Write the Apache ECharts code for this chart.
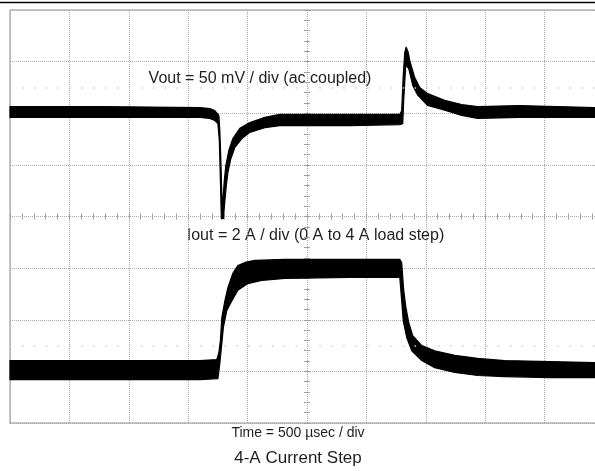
<!DOCTYPE html>
<html>
<head>
<meta charset="utf-8">
<script src="https://cdn.jsdelivr.net/npm/echarts@6/dist/echarts.min.js"></script>
<style>
html,body{margin:0;padding:0;background:#fff;}
#chart{width:595px;height:471px;}
</style>
</head>
<body>
<div id="chart"></div>
<script>
// Time axis: microseconds (500 µs / div, 10 divisions). Vertical axis: screen divisions (-4..4).
const timeTicks = [0, 500, 1000, 1500, 2000, 2500, 3000, 3500, 4000, 4500, 5000];
const divTicks = [-4, -3, -2, -1, 0, 1, 2, 3, 4];

// Vout trace (50 mV/div, ac coupled) — upper and lower edges of the noise band, [time µs, div]
const voutUpper = [
  [0,2.13],[757,2.13],[1598,2.11],[1682,2.09],[1724,2.05],[1758,1.96],[1766,1.67],[1775,1.09],
  [1783,0.41],[1792,0.31],[1804,0.70],[1817,0.99],[1842,1.28],[1876,1.51],[1935,1.71],[2019,1.82],
  [2145,1.92],[2271,1.98],[2860,1.98],[3281,1.98],[3297,2.05],[3310,2.73],[3323,3.18],[3335,3.28],
  [3352,3.18],[3365,3.02],[3407,2.69],[3449,2.50],[3516,2.38],[3659,2.25],[3802,2.17],[3937,2.13],
  [4290,2.15],[4921,2.11]
];
const voutLower = [
  [0,1.92],[757,1.92],[1598,1.92],[1682,1.90],[1724,1.86],[1750,1.80],[1762,1.47],[1771,0.70],
  [1779,-0.04],[1796,-0.04],[1809,0.31],[1821,0.60],[1834,0.85],[1859,1.12],[1893,1.34],[1952,1.51],
  [2019,1.63],[2145,1.72],[2271,1.76],[2860,1.76],[3281,1.78],[3306,1.80],[3314,2.25],[3331,2.93],
  [3356,2.87],[3390,2.54],[3432,2.35],[3516,2.15],[3659,2.06],[3802,1.96],[3937,1.90],[4290,1.92],
  [4921,1.92]
];

// Iout trace (2 A/div, 0 A to 4 A load step) — upper and lower edges of the band, [time µs, div]
const ioutUpper = [
  [0,-2.79],[757,-2.79],[1598,-2.79],[1741,-2.77],[1758,-2.64],[1771,-2.40],[1783,-1.96],[1809,-1.63],
  [1834,-1.38],[1876,-1.10],[1918,-0.95],[1977,-0.89],[2061,-0.85],[2313,-0.83],[2860,-0.83],[3281,-0.83],
  [3297,-0.89],[3314,-1.43],[3331,-1.74],[3356,-2.05],[3390,-2.31],[3466,-2.50],[3575,-2.60],[3743,-2.69],
  [3937,-2.75],[4164,-2.79],[4543,-2.81],[4921,-2.83]
];
const ioutLower = [
  [0,-3.16],[757,-3.16],[1598,-3.16],[1750,-3.14],[1766,-2.85],[1783,-2.46],[1796,-2.15],[1825,-1.82],
  [1868,-1.63],[1918,-1.43],[2002,-1.30],[2120,-1.24],[2313,-1.20],[2860,-1.18],[3281,-1.18],[3297,-1.63],
  [3310,-2.02],[3340,-2.35],[3382,-2.60],[3466,-2.79],[3575,-2.93],[3743,-3.02],[3937,-3.08],[4164,-3.10],
  [4543,-3.12],[4921,-3.12]
];

// Faint dotted reference rows (div)
const refRows = [2.5, -2.5];

const voutLabel = 'Vout = 50 mV / div (ac coupled)';
const ioutLabel = 'Iout = 2 A / div (0 A to 4 A load step)';
const timeLabel = 'Time = 500 µsec / div';
const titleText = '4-A Current Step';

const FONT = '"Liberation Sans", Arial, Helvetica, sans-serif';
const tMin = timeTicks[0], tMax = timeTicks[timeTicks.length - 1];
const tInt = timeTicks[1] - timeTicks[0];
const yMin = divTicks[0], yMax = divTicks[divTicks.length - 1];

function bandSeries(name, upper, lower) {
  return {
    name: name,
    type: 'custom',
    xAxisIndex: 0, yAxisIndex: 0,
    data: upper,
    encode: {x: 0, y: 1},
    silent: true,
    renderItem: function (params, api) {
      if (params.dataIndex !== 0) return null;
      const pts = [];
      upper.forEach(function (p) { pts.push(api.coord(p)); });
      for (let i = lower.length - 1; i >= 0; i--) pts.push(api.coord(lower[i]));
      return {
        type: 'polygon',
        shape: {points: pts},
        style: {fill: '#000', stroke: '#000', lineWidth: 1.2, lineJoin: 'round'}
      };
    }
  };
}

const hiddenAxisBase = {
  axisLabel: {show: false},
  splitLine: {show: false},
  axisLine: {show: false, onZero: false}
};

const chart = echarts.init(document.getElementById('chart'), null, {renderer: 'canvas'});
chart.setOption({
  animation: false,
  backgroundColor: '#fff',
  grid: {
    left: 10, top: 10, width: 594, height: 413,
    outerBoundsMode: 'none',
    show: true, borderColor: '#b5b5b5', borderWidth: 1.5, containLabel: false
  },
  xAxis: [
    Object.assign({}, hiddenAxisBase, {
      type: 'value', min: tMin, max: tMax, interval: tInt, position: 'bottom',
      axisTick: {show: false},
      splitLine: {show: true, lineStyle: {color: '#a8a8a8', type: 'dotted', width: 1}}
    }),
    Object.assign({}, hiddenAxisBase, {
      type: 'value', min: tMin, max: tMax, interval: tInt, position: 'top', offset: -206.5,
      axisTick: {show: true, length: 3, lineStyle: {color: '#a0a0a0'}},
      minorTick: {show: true, splitNumber: 5, length: 3, lineStyle: {color: '#a0a0a0'}}
    }),
    Object.assign({}, hiddenAxisBase, {
      type: 'value', min: tMin, max: tMax, interval: tInt, position: 'bottom', offset: -206.5,
      axisTick: {show: true, length: 3, lineStyle: {color: '#a0a0a0'}},
      minorTick: {show: true, splitNumber: 5, length: 3, lineStyle: {color: '#a0a0a0'}}
    })
  ],
  yAxis: [
    Object.assign({}, hiddenAxisBase, {
      type: 'value', min: yMin, max: yMax, interval: 1, position: 'left',
      axisTick: {show: false},
      splitLine: {show: true, lineStyle: {color: '#a8a8a8', type: 'dotted', width: 1}}
    }),
    Object.assign({}, hiddenAxisBase, {
      type: 'value', min: yMin, max: yMax, interval: 1, position: 'left', offset: -297,
      axisTick: {show: true, length: 3, lineStyle: {color: '#a0a0a0'}},
      minorTick: {show: true, splitNumber: 5, length: 3, lineStyle: {color: '#a0a0a0'}}
    }),
    Object.assign({}, hiddenAxisBase, {
      type: 'value', min: yMin, max: yMax, interval: 1, position: 'right', offset: -297,
      axisTick: {show: true, length: 3, lineStyle: {color: '#a0a0a0'}},
      minorTick: {show: true, splitNumber: 5, length: 3, lineStyle: {color: '#a0a0a0'}}
    })
  ],
  series: [
    {
      name: 'ref',
      type: 'line',
      xAxisIndex: 0, yAxisIndex: 0,
      data: [],
      silent: true,
      markLine: {
        silent: true,
        symbol: ['none', 'none'],
        label: {show: false},
        lineStyle: {color: '#cfcfcf', type: [1.5, 10.4], width: 1.5},
        data: refRows.map(function (v) { return {yAxis: v}; })
      }
    },
    bandSeries('Vout', voutUpper, voutLower),
    bandSeries('Iout', ioutUpper, ioutLower)
  ],
  graphic: [
    {type: 'line', silent: true, shape: {x1: 0, y1: 2.5, x2: 595, y2: 2.5}, style: {stroke: '#000', lineWidth: 1.5}},
    {type: 'text', silent: true, x: 260, y: 79, style: {text: voutLabel, font: '16px ' + FONT, fill: '#1e1e1e', align: 'center', verticalAlign: 'middle'}},
    {type: 'text', silent: true, x: 315.5, y: 236, style: {text: ioutLabel, font: '16px ' + FONT, fill: '#1e1e1e', align: 'center', verticalAlign: 'middle'}},
    {type: 'text', silent: true, x: 298, y: 433, style: {text: timeLabel, font: '14px ' + FONT, fill: '#1e1e1e', align: 'center', verticalAlign: 'middle'}},
    {type: 'text', silent: true, x: 298, y: 458, style: {text: titleText, font: '17px ' + FONT, fill: '#1e1e1e', align: 'center', verticalAlign: 'middle'}}
  ]
});
</script>
</body>
</html>
